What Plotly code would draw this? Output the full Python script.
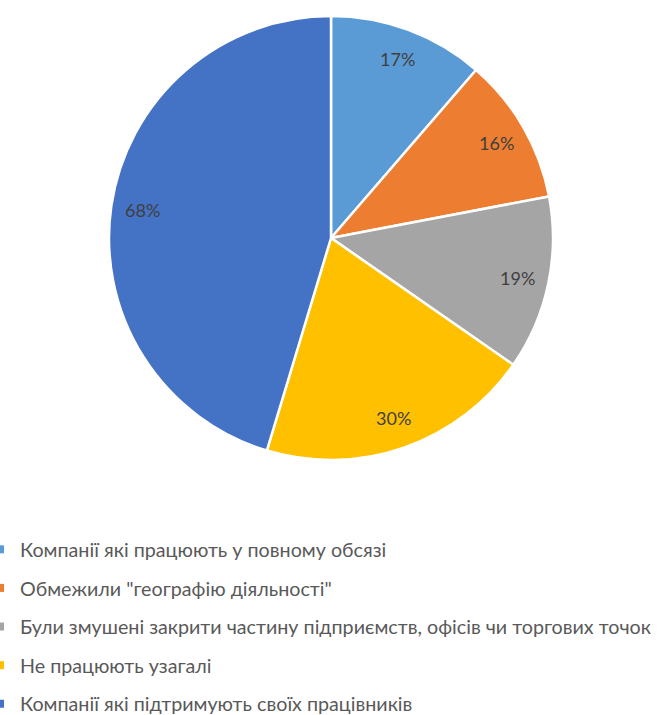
import math
import plotly.graph_objects as go

labels = [
    "Компанії які працюють у повному обсязі",
    "Обмежили \"географію діяльності\"",
    "Були змушені закрити частину підприємств, офісів чи торгових точок",
    "Не працюють узагалі",
    "Компанії які підтримують своїх працівників",
]
values = [17, 16, 19, 30, 68]
colors = ["#5B9BD5", "#ED7D31", "#A5A5A5", "#FFC000", "#4472C4"]

W, H = 661, 715
cx, cy, R = 331, 238, 222

fig = go.Figure()
fig.add_trace(go.Pie(
    labels=labels, values=values, sort=False, direction="clockwise", rotation=0,
    marker=dict(colors=colors, line=dict(color="white", width=2.5)),
    textinfo="none", hoverinfo="label+value", showlegend=False,
    domain=dict(x=[(cx - R) / W, (cx + R) / W], y=[1 - (cy + R) / H, 1 - (cy - R) / H]),
))

# labels at ~0.86 radius, mid-angle of each slice
total = sum(values)
cum = 0
for v in values:
    mid = (cum + v / 2) / total * 2 * math.pi
    cum += v
    r = 0.86 * R
    px = cx + r * math.sin(mid)
    py = cy - r * math.cos(mid)
    fig.add_annotation(x=px / W, y=1 - py / H, xref="paper", yref="paper",
                       xanchor="center", yanchor="middle",
                       text=f"{v}%", showarrow=False,
                       font=dict(family="Lato", size=18, color="#404040"))

# legend entries
for i, (lab, col) in enumerate(zip(labels, colors)):
    fig.add_trace(go.Scatter(
        x=[None], y=[None], mode="markers", name=lab,
        marker=dict(symbol="square", size=8, color=col),
        legendgroup=f"g{i}", showlegend=True,
    ))

fig.update_layout(
    width=W, height=H,
    margin=dict(l=0, r=0, t=0, b=0, autoexpand=False),
    paper_bgcolor="white", plot_bgcolor="white",
    xaxis=dict(visible=False), yaxis=dict(visible=False),
    legend=dict(x=-20 / W, xanchor="left", y=1 - 530 / H, yanchor="top",
                tracegroupgap=10, itemwidth=30,
                font=dict(family="Lato", size=19.7, color="#595959"),
                bgcolor="rgba(0,0,0,0)"),
)

fig.write_html("out.html")
